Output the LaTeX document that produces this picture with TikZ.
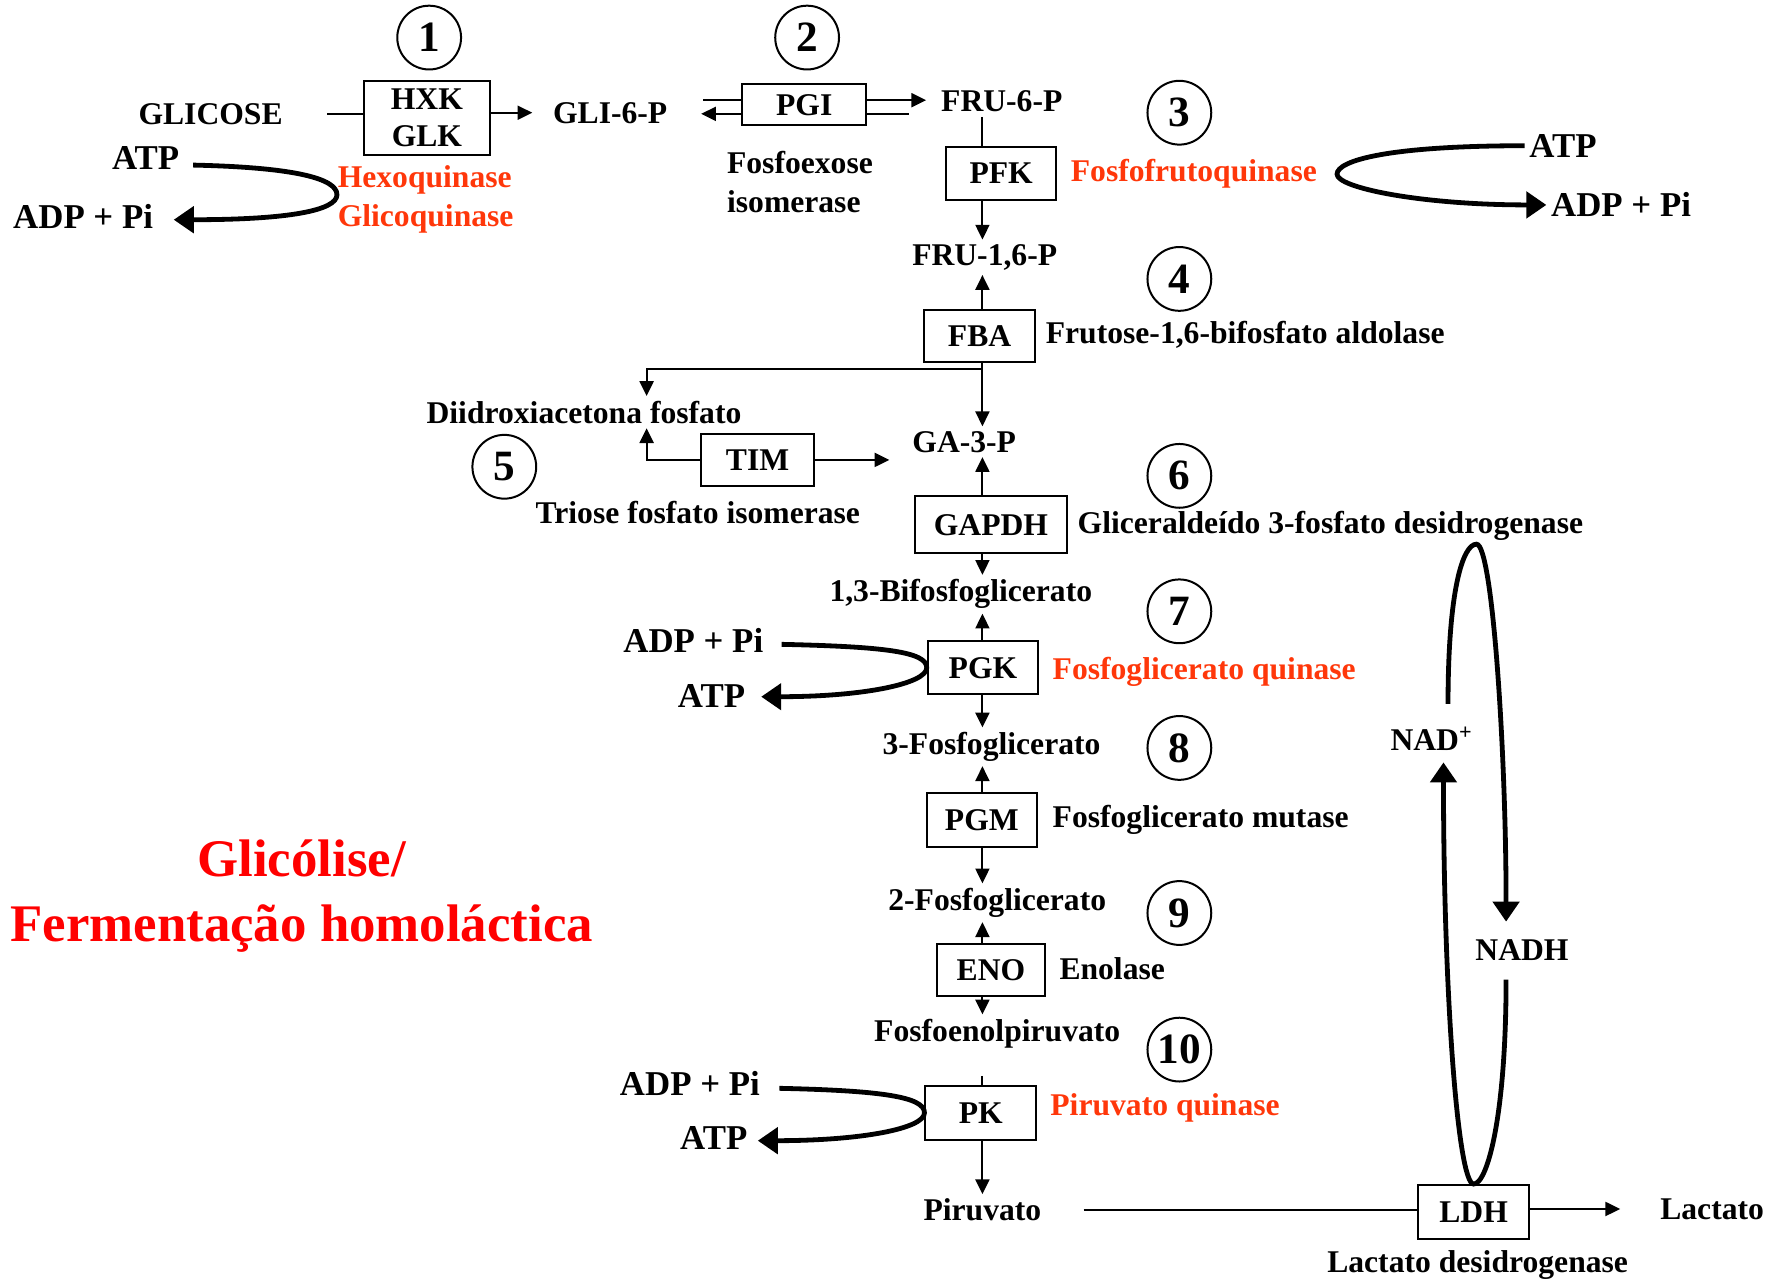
\documentclass[tikz,border=0pt]{standalone}
\usepackage{fontspec}
\setmainfont{Liberation Serif}
\usetikzlibrary{arrows.meta, positioning, calc}

\begin{document}
\begin{tikzpicture}[
    x=0.01cm, y=-0.01cm,
    font=\bfseries\fontsize{7.9}{9.7}\selectfont,
    every node/.style={inner sep=1pt},
    enzbox/.style={draw=black, line width=0.5pt, minimum width=0.97cm, minimum height=0.47cm, inner sep=0pt, align=center},
    enzlabel/.style={anchor=west, align=left, inner sep=0pt},
    cofac/.style={font=\bfseries\fontsize{8.7}{10}\selectfont},
    stepnum/.style={circle, draw=black, line width=0.5pt, minimum size=0.56cm, inner sep=0pt, font=\bfseries\fontsize{10.8}{12}\selectfont},
    link/.style={line width=0.5pt},
    flow/.style={line width=0.5pt, -{Triangle[length=3.7pt, width=3.5pt]}},
    cofarrow/.style={line width=1.2pt, -{Triangle[length=5pt, width=6.5pt]}},
]

% ===== Colors =====
\definecolor{enzred}{RGB}{255,55,10}
\definecolor{titlered}{RGB}{255,0,0}

\useasboundingbox (0,0) rectangle (1568,1123);

% ===== Axes =====
% main column and the side branch of the triose phosphates
\coordinate (axis) at (863,0);
\coordinate (side) at (568,0);

% ===== Enzyme boxes =====
\node[enzbox, minimum width=1.10cm, minimum height=0.65cm, font=\bfseries\fontsize{7.9}{9.1}\selectfont] (hxk) at (375,103.5) {HXK\\GLK};
\node[enzbox, minimum width=1.09cm, minimum height=0.36cm] (pgi) at (706.5,92) {PGI};
\node[enzbox] (pfk) at (879.5,152.5) {PFK};
\node[enzbox, minimum height=0.46cm] (fba) at (860.5,295) {FBA};
\node[enzbox, minimum width=0.99cm, minimum height=0.46cm] (tim) at (665.5,404) {TIM};
\node[enzbox, minimum width=1.33cm, minimum height=0.50cm] (gapdh) at (870.5,461) {GAPDH};
\node[enzbox] (pgk) at (863.5,586.5) {PGK};
\node[enzbox] (pgm) at (862.5,720.5) {PGM};
\node[enzbox, minimum width=0.95cm, minimum height=0.46cm] (eno) at (870.5,852) {ENO};
\node[enzbox] (pk) at (861.5,977.5) {PK};
\node[enzbox] (ldh) at (1294.5,1064.5) {LDH};

% ===== Metabolites =====
\node (glc) at (185,100) {GLICOSE};
\node (g6p) at (536,99) {GLI-6-P};
\node (f6p) at (880,89) {FRU-6-P};
\node (f16p) at (865,226) {FRU-1,6-P};
\node (dhap) at (513,362) {Diidroxiacetona fosfato};
\node (ga3p) at (847,388) {GA-3-P};
\node (bpg) at (844,522) {1,3-Bifosfoglicerato};
\node (pg3) at (871,656) {3-Fosfoglicerato};
\node (pg2) at (876,793) {2-Fosfoglicerato};
\node (pep) at (876,908) {Fosfoenolpiruvato};
\node (pyr) at (863,1063) {Piruvato};
\node (lac) at (1504,1062) {Lactato};
\node (nad) at (1258,649) {NAD\textsuperscript{+}};
\node (nadh) at (1337,835) {NADH};

% ===== Enzyme names =====
\node[enzlabel, text=enzred] (hxkname) at (296,175) {Hexoquinase\\Glicoquinase};
\node[enzlabel] (pginame) at (638,160) {Fosfoexose\\isomerase};
\node[enzlabel, text=enzred] (pfkname) at (940,153) {Fosfofrutoquinase};
\node[enzlabel] (fbaname) at (918,294) {Frutose-1,6-bifosfato aldolase};
\node (timname) at (613,450) {Triose fosfato isomerase};
\node[enzlabel] (gapdhname) at (946,462) {Gliceraldeído 3-fosfato desidrogenase};
\node[enzlabel, text=enzred] (pgkname) at (924,590) {Fosfoglicerato quinase};
\node[enzlabel] (pgmname) at (924,720) {Fosfoglicerato mutase};
\node[enzlabel] (enoname) at (930,851) {Enolase};
\node[enzlabel, text=enzred] (pkname) at (922,973) {Piruvato quinase};
\node (ldhname) at (1298,1111) {Lactato desidrogenase};

% ===== Step numbers =====
\foreach \n/\x/\y in {1/377/33, 2/709/33, 3/1036/99, 4/1036/245, 5/443/410,
                       6/1036/418, 7/1036/537, 8/1036/657, 9/1036/802, 10/1036/922}
    \node[stepnum] (step\n) at (\x,\y) {\n};

% ===== Cofactors =====
\node[cofac] (atp1) at (128,139) {ATP};
\node[cofac] (adp1) at (73,190) {ADP + Pi};
\node[cofac] (atp3) at (1373,128) {ATP};
\node[cofac] (adp3) at (1424,180) {ADP + Pi};
\node[cofac] (adp7) at (609,563) {ADP + Pi};
\node[cofac] (atp7) at (625,611) {ATP};
\node[cofac] (adp10) at (606,952) {ADP + Pi};
\node[cofac] (atp10) at (627,1000) {ATP};

% ===== Title =====
\node[text=titlered, align=center, font=\bfseries\fontsize{13.2}{16.2}\selectfont] (title) at (265,787) {Glicólise/\\Fermentação homoláctica};

% ===== Pathway connectors =====
% step 1
\draw[link, shorten <=0.35cm] (glc.east) -- (hxk.west |- glc.east);
\draw[flow, shorten >=0.14cm] (hxk.east |- g6p.west) -- (g6p.west);
% step 2 (reversible)
\draw[link, shorten >=0.275cm] ($(pgi.west)+(0,-4)$) -- ($(pgi.west -| g6p.east)+(0,-4)$);
\draw[flow, shorten >=0.255cm] ($(pgi.west)+(0,8)$) -- ($(pgi.west -| g6p.east)+(0,8)$);
\draw[flow, shorten >=0.09cm] ($(pgi.east)+(0,-4)$) -- ($(pgi.east -| f6p.west)+(0,-4)$);
\draw[link, shorten >=0.24cm] ($(pgi.east)+(0,8)$) -- ($(pgi.east -| f6p.west)+(0,8)$);
% step 3
\draw[link] (f6p.south -| axis) -- (pfk.north -| axis);
\draw[flow] (pfk.south -| axis) -- (f16p.north -| axis);
% step 4
\draw[flow] (fba.north -| axis) -- (f16p.south -| axis);
\draw[flow] (fba.south -| axis) -- (ga3p.north -| axis);
\draw[flow] ($(fba.south -| axis)+(0,5)$) -| (dhap.north -| side);
% step 5
\draw[flow] (tim.west) -| (dhap.south -| side);
\draw[flow, shorten >=0.16cm] (tim.east) -- (tim.east -| ga3p.west);
% step 6
\draw[flow] (gapdh.north -| axis) -- (ga3p.south -| axis);
\draw[flow] (gapdh.south -| axis) -- (bpg.north -| axis);
% step 7
\draw[flow] (pgk.north -| axis) -- (bpg.south -| axis);
\draw[flow] (pgk.south -| axis) -- (pg3.north -| axis);
% step 8
\draw[flow] (pgm.north -| axis) -- (pg3.south -| axis);
\draw[flow] (pgm.south -| axis) -- (pg2.north -| axis);
% step 9
\draw[flow] (eno.north -| axis) -- (pg2.south -| axis);
\draw[flow] (eno.south -| axis) -- (pep.north -| axis);
% step 10
\draw[link, shorten <=0.2cm] (pep.south -| axis) -- (pk.north -| axis);
\draw[flow] (pk.south -| axis) -- (pyr.north -| axis);
% fermentation
\draw[link, shorten <=0.33cm] (pyr.east) -- (ldh.west |- pyr.east);
\draw[flow, shorten >=0.31cm] (ldh.east |- lac.west) -- (lac.west);

% ===== Cofactor loops =====
\coordinate (bend3) at ($(pfkname.east)+(17,0)$);
\coordinate (looptop) at (1297,478);

\draw[cofarrow] ($(atp1.east)+(8,6)$) .. controls +(90,2) and +(0,-14) .. ($(hxkname.west)+(0,-4)$)
    .. controls +(0,14) and +(100,0) .. ($(adp1.east)+(14,3)$);
\draw[cofarrow] (atp3.west) .. controls +(-120,0) and +(0,-12) .. (bend3)
    .. controls +(0,12) and +(-110,0) .. (adp3.west);
\draw[cofarrow] ($(adp7.east)+(12,3)$) .. controls +(90,2) and +(0,-14) .. (pgk.west)
    .. controls +(0,14) and +(90,0) .. ($(atp7.east)+(10,1)$);
\draw[cofarrow] ($(adp10.east)+(13,4)$) .. controls +(90,2) and +(0,-14) .. (pk.west)
    .. controls +(0,14) and +(90,0) .. ($(atp10.east)+(5,2)$);

% NAD+/NADH regeneration
\draw[cofarrow] ($(nad.north)+(14,-16)$) .. controls +(0,-100) and +(-12,0) .. (looptop)
    .. controls +(14,0) and +(0,-150) .. ($(nadh.north)+(-14,-12)$);
\draw[cofarrow] ($(nadh.south)+(-14,12)$) .. controls +(0,120) and +(12,0) .. (ldh.north)
    .. controls +(-14,0) and +(0,200) .. ($(nad.south)+(10,6)$);

\end{tikzpicture}
\end{document}
